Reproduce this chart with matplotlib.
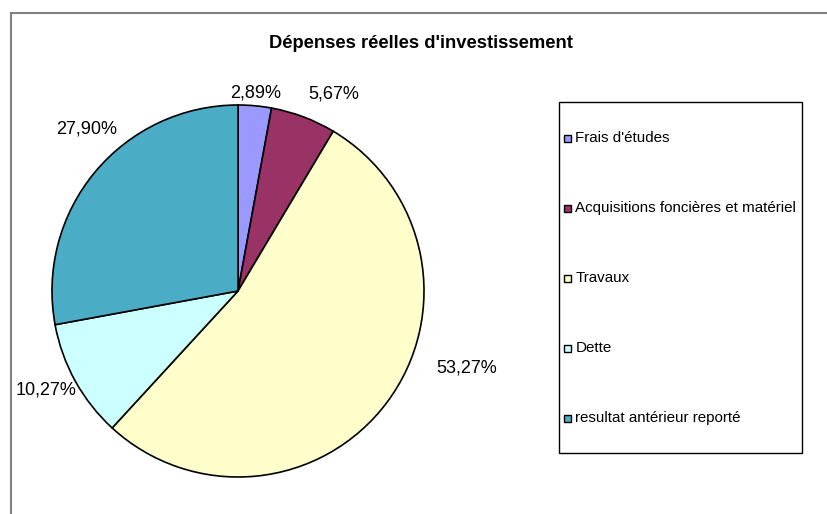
import numpy as np
import matplotlib.pyplot as plt
from matplotlib.patches import Rectangle

plt.rcParams["font.family"] = ["Liberation Sans", "DejaVu Sans"]

title = "Dépenses réelles d'investissement"
categories = ["Frais d'études", "Acquisitions foncières et matériel", "Travaux",
              "Dette", "resultat antérieur reporté"]
shares = [2.89, 5.67, 53.27, 10.27, 27.90]
colors = ["#9999FF", "#993366", "#FFFFCC", "#CCFFFF", "#4BACC6"]

# label placement (radius, angle in degrees) as in the original layout
label_pos = [(1.07, 85), (1.18, 64), (1.30, -18.6), (1.16, -152.6), (1.19, 133)]

W, H = 828, 514
fig = plt.figure(figsize=(W / 100, H / 100), dpi=100)

# outer frame
fig.patches.append(Rectangle((11 / W, -0.1), 1.0, (H - 13) / H + 0.1,
                             transform=fig.transFigure, fill=False,
                             edgecolor="#808080", linewidth=1.5))

cx, cy, r = 238, 291, 186
ax = fig.add_axes([(cx - r) / W, (H - cy - r) / H, 2 * r / W, 2 * r / H])
wedges, texts, autotexts = ax.pie(
    shares, colors=colors, startangle=90, counterclock=False,
    autopct=lambda p: f"{p:.2f}%".replace(".", ","), pctdistance=1.2,
    wedgeprops=dict(edgecolor="black", linewidth=1.2),
    textprops=dict(fontsize=13, color="black"))
for t, (rad, ang) in zip(autotexts, label_pos):
    t.set_position((rad * np.cos(np.radians(ang)), rad * np.sin(np.radians(ang))))
    t.set_ha("center")
    t.set_va("center")
    t.set_clip_on(False)
for w in wedges:
    w.set_clip_on(False)
ax.set_xlim(-1, 1)
ax.set_ylim(-1, 1)
ax.set_aspect("equal")
ax.axis("off")

fig.text(420.5 / W, 1 - 44 / H, title, ha="center", va="center",
         fontsize=13.2, fontweight="bold")

# legend box
lx0, ly0, lx1, ly1 = 559, 102, 802, 453
fig.patches.append(Rectangle((lx0 / W, 1 - ly1 / H), (lx1 - lx0) / W, (ly1 - ly0) / H,
                             transform=fig.transFigure, fill=False,
                             edgecolor="black", linewidth=1.0))
for i, (lab, c) in enumerate(zip(categories, colors)):
    y = 138 + 70 * i
    fig.patches.append(Rectangle((564 / W, 1 - (y + 3.5) / H), 7 / W, 7 / H,
                                 transform=fig.transFigure, facecolor=c,
                                 edgecolor="black", linewidth=1.0))
    fig.text(575.5 / W, 1 - y / H, lab, ha="left", va="center", fontsize=10.9)

fig.savefig("out.png", dpi=100, facecolor="white")
